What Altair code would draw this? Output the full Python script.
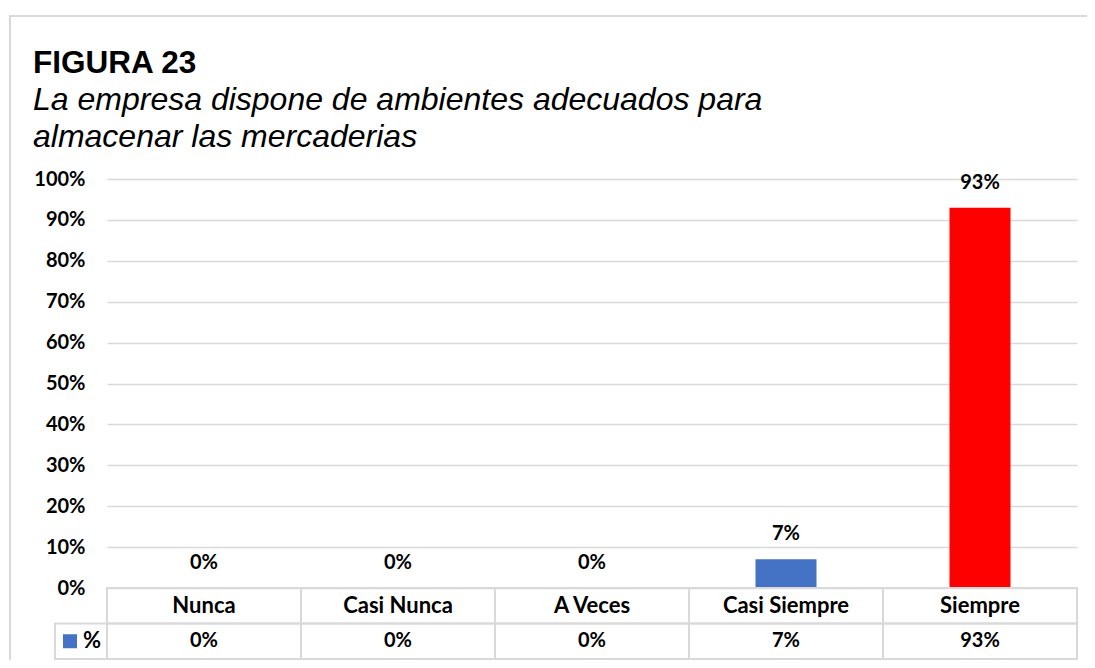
import altair as alt
import pandas as pd

categories = ["Nunca", "Casi Nunca", "A Veces", "Casi Siempre", "Siempre"]
values = [0.0, 0.0, 0.0, 0.07, 0.93]
labels = ["0%", "0%", "0%", "7%", "93%"]
colors = ["#4472C4", "#4472C4", "#4472C4", "#4472C4", "#FF0000"]
y_ticks = [0, 0.1, 0.2, 0.3, 0.4, 0.5, 0.6, 0.7, 0.8, 0.9, 1.0]

title = "FIGURA 23"
subtitle = ["La empresa dispone de ambientes adecuados para", "almacenar las mercaderias"]
series_name = "%"

df = pd.DataFrame({"cat": categories, "val": values, "label": labels, "color": colors})
one = pd.DataFrame({"a": [0]})

W, H = 970, 409
ROW = 35.5
GRID = "#d9d9d9"
DFONT = "Lato"
DSIZE = 20
CSIZE = 22

xenc = alt.X("cat:N", sort=categories, axis=None,
             scale=alt.Scale(paddingInner=0, paddingOuter=0))

base = alt.Chart(df)

bars = base.mark_bar(size=61).encode(
    x=xenc,
    y=alt.Y("val:Q", scale=alt.Scale(domain=[0, 1]),
            axis=alt.Axis(values=y_ticks, format=".0%", title=None, domain=False, ticks=False,
                          grid=True, gridColor=GRID, gridWidth=1.5,
                          labelFont=DFONT, labelFontWeight="bold", labelFontSize=DSIZE,
                          labelColor="#000000", labelPadding=22)),
    color=alt.Color("color:N", scale=None),
)

bar_labels = base.mark_text(dy=-25, font=DFONT, fontWeight="bold", fontSize=DSIZE,
                            baseline="middle", color="#000000").encode(
    x=xenc, y="val:Q", text="label:N")

row1 = base.mark_rect(fillOpacity=0, stroke=GRID, strokeWidth=2).encode(
    x=xenc, y=alt.value(H), y2=alt.value(H + ROW))
row2 = base.mark_rect(fillOpacity=0, stroke=GRID, strokeWidth=2).encode(
    x=xenc, y=alt.value(H + ROW), y2=alt.value(H + 2 * ROW))

row1_text = base.mark_text(font=DFONT, fontWeight="bold", fontSize=CSIZE, baseline="middle",
                           color="#000000").encode(
    x=xenc, y=alt.value(H + ROW / 2), text="cat:N")
row2_text = base.mark_text(font=DFONT, fontWeight="bold", fontSize=DSIZE, baseline="middle",
                           color="#000000").encode(
    x=xenc, y=alt.value(H + ROW * 1.5), text="label:N")

one_c = alt.Chart(one)
legend_cell = one_c.mark_rect(fillOpacity=0, stroke=GRID, strokeWidth=2).encode(
    x=alt.value(-52), x2=alt.value(0), y=alt.value(H + ROW), y2=alt.value(H + 2 * ROW))
legend_sq = one_c.mark_rect(color="#4472C4").encode(
    x=alt.value(-44), x2=alt.value(-30), y=alt.value(H + ROW * 1.5 - 7), y2=alt.value(H + ROW * 1.5 + 7))
legend_txt = one_c.mark_text(font=DFONT, fontWeight="bold", fontSize=CSIZE, align="left",
                             baseline="middle", color="#000000").encode(
    x=alt.value(-24), y=alt.value(H + ROW * 1.5), text=alt.value(series_name))

title_txt = one_c.mark_text(font="Liberation Sans", fontWeight="bold", fontSize=31.5, align="left",
                            baseline="alphabetic", color="#000000").encode(
    x=alt.value(-74), y=alt.value(-106), text=alt.value(title))
sub1 = one_c.mark_text(font="Liberation Sans", fontStyle="italic", fontSize=32, align="left",
                       baseline="alphabetic", color="#000000").encode(
    x=alt.value(-74), y=alt.value(-69), text=alt.value(subtitle[0]))
sub2 = one_c.mark_text(font="Liberation Sans", fontStyle="italic", fontSize=32, align="left",
                       baseline="alphabetic", color="#000000").encode(
    x=alt.value(-74), y=alt.value(-32), text=alt.value(subtitle[1]))

border = one_c.mark_rect(fillOpacity=0, stroke=GRID, strokeWidth=2).encode(
    x=alt.value(-97), x2=alt.value(1100), y=alt.value(-163), y2=alt.value(700))

chart = alt.layer(
    border, bars, bar_labels, row1, row2, row1_text, row2_text,
    legend_cell, legend_sq, legend_txt, title_txt, sub1, sub2
).properties(
    width=W, height=H,
    autosize=alt.AutoSizeParams(type="none"),
    padding={"left": 99, "top": 171, "right": 10, "bottom": 72},
    background="white",
).configure_view(stroke=None)

chart.save("out.html", embed_options={"renderer": "svg", "actions": False})
